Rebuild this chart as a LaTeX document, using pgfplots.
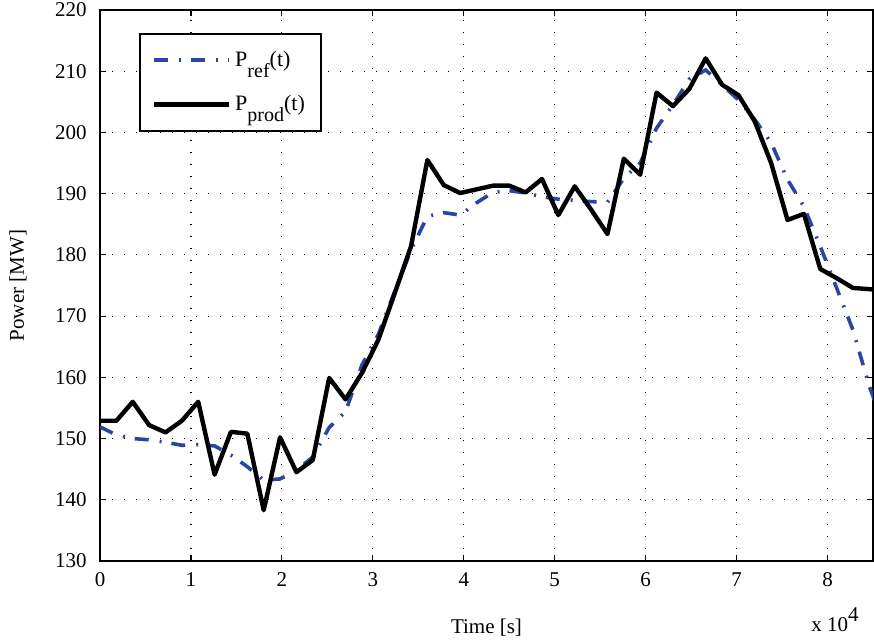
\documentclass[border=0pt]{standalone}
\usepackage{fontspec}
\setmainfont{Liberation Serif}
\usepackage{pgfplots}
\pgfplotsset{compat=1.18}
\definecolor{refblue}{HTML}{2B45A3}

% time in units of 10^4 s, powers in MW
\pgfplotstableread{
t     ref    prod
0.00  151.9  152.9
0.18  150.6  152.9
0.36  150.0  156.0
0.54  149.8  152.2
0.72  149.4  151.0
0.90  148.9  152.9
1.08  149.0  156.0
1.26  148.8  144.1
1.44  147.3  151.1
1.62  145.4  150.8
1.80  143.2  138.3
1.98  143.4  150.2
2.16  144.8  144.5
2.34  147.0  146.5
2.52  151.8  159.9
2.70  154.4  156.4
2.88  162.0  160.7
3.06  167.0  166.1
3.24  174.0  173.7
3.42  180.8  181.4
3.60  186.3  195.5
3.78  186.9  191.4
3.96  186.5  190.1
4.14  188.5  190.7
4.32  190.2  191.3
4.50  190.5  191.3
4.68  190.1  190.2
4.86  189.5  192.4
5.04  189.1  186.5
5.22  188.9  191.2
5.40  188.7  187.4
5.58  188.6  183.4
5.76  192.5  195.7
5.94  195.0  193.1
6.12  200.7  206.5
6.30  204.5  204.3
6.48  208.7  207.1
6.66  210.2  212.1
6.84  207.8  207.8
7.02  205.3  206.1
7.20  202.1  201.8
7.38  198.3  195.0
7.56  192.3  185.7
7.74  187.9  186.7
7.92  181.4  177.7
8.10  174.6  176.2
8.28  167.7  174.6
8.46  158.5  174.4
8.64  151.3  174.2
}\powerdata

\newcommand{\sub}[1]{\raisebox{-1.1ex}{\fontsize{10}{11}\selectfont #1}}

\begin{document}
\fontsize{10.5}{12.5}\selectfont
\begin{tikzpicture}
\begin{axis}[
  width=386.5pt, height=275.5pt, scale only axis,
  xmin=0, xmax=8.5, ymin=130, ymax=220,
  xtick={0,1,...,8}, ytick={130,140,...,220},
  grid=major,
  major grid style={black, line width=0.6pt, dash pattern=on 0.6pt off 5.4pt},
  tick align=inside, major tick length=3pt,
  tick style={black, line width=0.6pt},
  axis line style={line width=0.8pt},
  /pgf/number format/assume math mode=true,
  ticklabel style={font=\fontsize{10.5}{12.5}\selectfont},
  yticklabel style={xshift=-3pt},
  xticklabel style={yshift=-2pt},
  xlabel={Time [s]}, ylabel={Power [MW]},
  every axis x label/.style={at={(axis description cs:0.5,-0.1216)}, anchor=center},
  every axis y label/.style={at={(axis description cs:-0.106,0.5)}, rotate=90, anchor=center},
  clip=true,
  legend style={at={(rel axis cs:0.0505,0.958)}, anchor=north west,
    draw=black, line width=0.8pt, fill=white,
    inner xsep=6pt, inner ysep=6.5pt, row sep=9pt,
    nodes={inner sep=2pt},
    font=\fontsize{11}{13}\selectfont, cells={anchor=west}},
  legend image code/.code={\draw[#1] (0pt,0pt) -- (37.5pt,0pt);},
]
\coordinate (sw) at (rel axis cs:0,0);
\coordinate (ne) at (rel axis cs:1,1);
\addplot[refblue, line width=1.8pt, dash pattern=on 7pt off 5.5pt on 1pt off 5pt]
  table[x=t, y=ref] {\powerdata};
\addplot[black, line width=2.2pt, line join=round]
  table[x=t, y=prod] {\powerdata};
\legend{P\sub{ref}(t)\hspace{10pt}, P\sub{prod}(t)\hspace{10pt}}
\end{axis}
\node[anchor=north east] at ([shift={(-3.5pt,-19.5pt)}]sw -| ne) {x 10\raisebox{1.1ex}{4}};
\pgfresetboundingbox
\path[use as bounding box] ([shift={(-50pt,-41.5pt)}]sw) rectangle ([shift={(0.5pt,5pt)}]ne);
\end{tikzpicture}
\end{document}
